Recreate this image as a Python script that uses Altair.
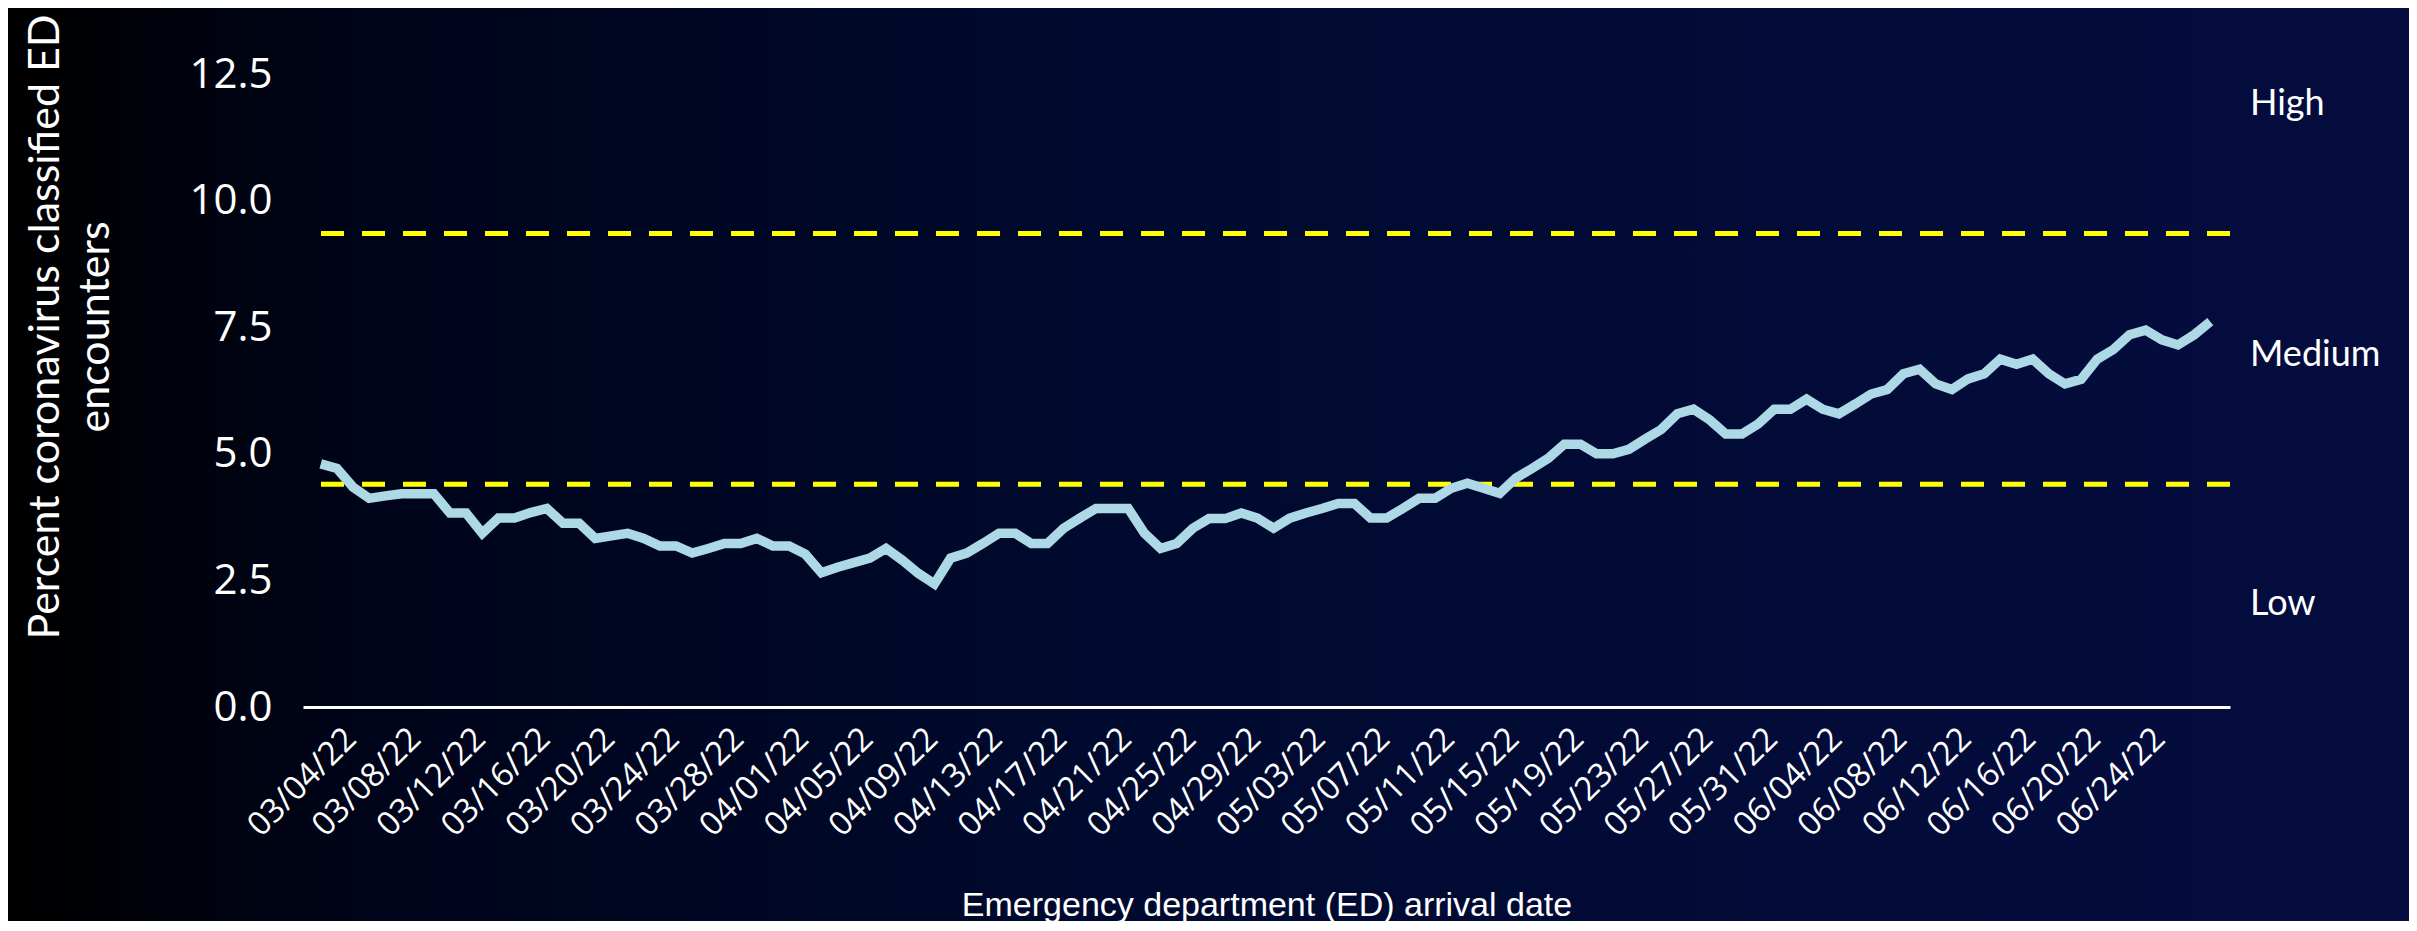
import altair as alt
import pandas as pd

# ---- data ----
start_date = "2022-03-01"
pct_values = [
    4.80, 4.71, 4.34, 4.12, 4.17, 4.21, 4.21, 4.21, 3.83, 3.83,
    3.43, 3.73, 3.73, 3.84, 3.92, 3.63, 3.63, 3.33, 3.38, 3.43,
    3.33, 3.18, 3.18, 3.04, 3.13, 3.23, 3.23, 3.33, 3.18, 3.18,
    3.02, 2.65, 2.76, 2.85, 2.94, 3.13, 2.90, 2.64, 2.43, 2.94,
    3.04, 3.23, 3.43, 3.43, 3.23, 3.23, 3.53, 3.73, 3.92, 3.92,
    3.92, 3.43, 3.13, 3.23, 3.53, 3.72, 3.72, 3.83, 3.73, 3.53,
    3.73, 3.83, 3.92, 4.02, 4.02, 3.73, 3.73, 3.92, 4.12, 4.12,
    4.32, 4.42, 4.32, 4.22, 4.52, 4.71, 4.91, 5.19, 5.19, 5.00,
    5.00, 5.09, 5.29, 5.48, 5.79, 5.88, 5.67, 5.39, 5.39, 5.59,
    5.88, 5.88, 6.08, 5.88, 5.79, 5.98, 6.18, 6.27, 6.58, 6.67,
    6.38, 6.27, 6.48, 6.58, 6.87, 6.77, 6.87, 6.58, 6.38, 6.47,
    6.87, 7.06, 7.35, 7.44, 7.25, 7.15, 7.35, 7.61,
]
dates = pd.date_range(start_date, periods=len(pct_values), freq="D").strftime("%Y-%m-%d").tolist()

tick_dates = pd.date_range("2022-03-04", "2022-06-24", freq="4D")
y_ticks = [0, 2.5, 5.0, 7.5, 10.0, 12.5]
threshold_values = [4.4, 9.35]
level_labels = ["High", "Medium", "Low"]
level_y = [11.9, 6.95, 2.03]

x_title = "Emergency department (ED) arrival date"
y_title_lines = ["Percent coronavirus classified ED", "encounters"]

df = pd.DataFrame({"date": dates, "pct": pct_values})
thr = pd.DataFrame({"v": threshold_values})
lev = pd.DataFrame({"label": level_labels, "y": level_y})

W, H = 1927, 633
PAD = {"left": 295, "top": 66, "right": 179, "bottom": 214}

x_scale = alt.Scale(
    type="utc",
    domain=[
        alt.DateTime(year=2022, month=2, date=27, hours=21, minutes=36, utc=True),
        alt.DateTime(year=2022, month=6, date=27, hours=5, minutes=17, utc=True),
    ],
)
y_scale = alt.Scale(domain=[0, 12.5], nice=False, zero=True)

tick_vals = [
    alt.DateTime(year=d.year, month=d.month, date=d.day, utc=True) for d in tick_dates
]

bg = alt.Chart(pd.DataFrame({"a": [0]})).mark_rect(
    color=alt.LinearGradient(
        gradient="linear",
        x1=0, x2=1, y1=0, y2=0,
        stops=[
            alt.GradientStop(offset=0, color="#000000"),
            alt.GradientStop(offset=0.15, color="#00041a"),
            alt.GradientStop(offset=0.45, color="#000a2e"),
            alt.GradientStop(offset=0.75, color="#030b38"),
            alt.GradientStop(offset=1, color="#050d40"),
        ],
    )
).encode(
    x=alt.value(-PAD["left"]),
    x2=alt.value(W + PAD["right"]),
    y=alt.value(-PAD["top"]),
    y2=alt.value(H + PAD["bottom"]),
)

line = alt.Chart(df).mark_line(color="#add8e6", strokeWidth=9.5).encode(
    x=alt.X(
        "date:T",
        scale=x_scale,
        axis=alt.Axis(
            values=tick_vals,
            format="%m/%d/%y",
            labelAngle=-45,
            labelAlign="right",
            labelBaseline="top",
            labelPadding=15,
            labelOffset=-30,
            labelFontSize=33,
            labelFont="Open Sans",
            labelColor="white",
            labelOverlap=False,
            labelFlush=False,
            domain=True,
            domainColor="white",
            domainWidth=3,
            ticks=False,
            grid=False,
            title=x_title,
            titleFont="Liberation Sans",
            titleFontSize=34,
            titleFontWeight="normal",
            titleColor="white",
            titleBaseline="middle",
            titleY=198,
            zindex=1,
        ),
    ),
    y=alt.Y(
        "pct:Q",
        scale=y_scale,
        axis=alt.Axis(
            values=y_ticks,
            format=".1f",
            labelFontSize=42,
            labelFont="Open Sans",
            labelColor="white",
            labelPadding=31,
            domain=False,
            ticks=False,
            grid=False,
            title=None,
            zindex=1,
        ),
    ),
)

rules = alt.Chart(thr).mark_rule(
    color="#ffff00", strokeWidth=5, strokeDash=[23, 18]
).encode(y=alt.Y("v:Q", scale=y_scale))

texts = alt.Chart(lev).mark_text(
    align="left", baseline="middle", font="Lato", fontSize=36, color="white"
).encode(
    x=alt.value(W + 20),
    y=alt.Y("y:Q", scale=y_scale),
    text="label:N",
)

ytitle1 = alt.Chart(pd.DataFrame({"t": [y_title_lines[0]]})).mark_text(
    angle=270, align="center", baseline="middle", font="Lato", fontSize=43, color="white"
).encode(x=alt.value(-257), y=alt.value(253), text="t:N")

ytitle2 = alt.Chart(pd.DataFrame({"t": [y_title_lines[1]]})).mark_text(
    angle=270, align="center", baseline="middle", font="Lato", fontSize=43, color="white"
).encode(x=alt.value(-207), y=alt.value(253), text="t:N")

chart = alt.layer(bg, rules, line, texts, ytitle1, ytitle2).properties(
    width=W,
    height=H,
    autosize=alt.AutoSizeParams(type="none"),
    padding=PAD,
    background="#000000",
).configure_view(stroke=None)

chart.save("out.html", embed_options={"renderer": "svg", "actions": False})
